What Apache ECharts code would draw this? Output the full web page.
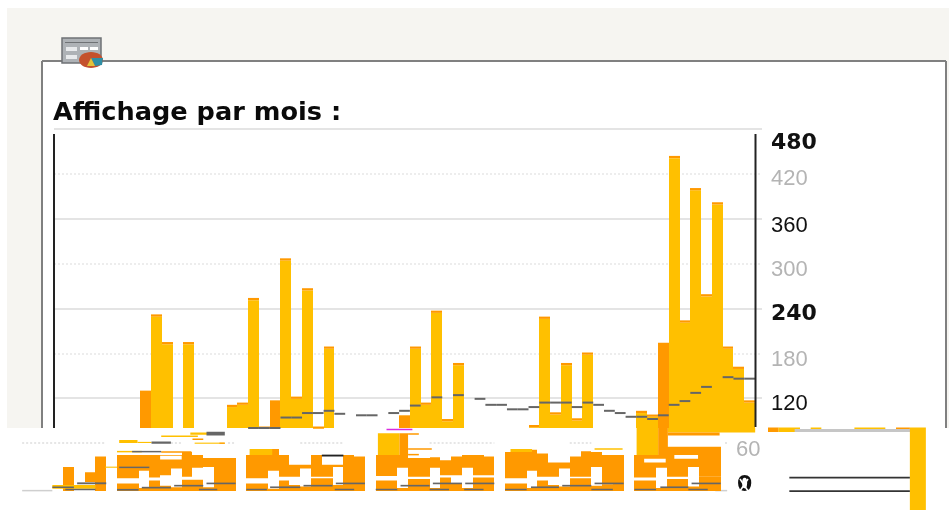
<!DOCTYPE html>
<html>
<head>
<meta charset="utf-8">
<style>html,body{margin:0;padding:0;background:#fff}#c{width:949px;height:521px;filter:blur(0.45px)}</style>
<script src="https://cdn.jsdelivr.net/npm/echarts@6/dist/echarts.min.js"></script>
</head>
<body>
<div id="c"></div>
<script>
const titleText = 'Affichage par mois :';
const tickValues = [480, 420, 360, 300, 240, 180, 120];
const tickBold = [480, 240];
const tickGrey = [420, 300, 180];
const tickDrop = {480: 14, 420: 5, 360: 7, 300: 6, 240: 6, 180: 7, 120: 6};
const solidLines = [480, 360, 240, 120];
const dottedLines = [420, 300, 180];

const monthTotals = [null,null,null,null,null,null,null,null,130,232,195,null,195,null,null,null,111,114,254,82,117,307,122,267,82,189,null,null,null,null,null,null,97,189,114,237,92,167,null,null,null,null,null,null,84,229,101,167,93,181,null,null,null,null,103,98,194,444,224,401,259,382,189,162,117];
const darkMonths = [8, 20, 32, 56];
const trend = [null,null,null,null,null,null,null,null,null,null,null,null,null,null,null,null,null,null,80,80,80,94,94,100,100,103,99,null,97,97,null,100,103,110,null,121,null,124,null,119,111,111,105,105,108,114,114,114,108,114,111,103,100,95,95,92,97,111,116,127,135,null,148,146,146];

/* broken lower band of the picture: one entry per column */
const lowerTop = [null,null,null,null,32,null,0,46,null,10,10,4,14,7,5,15,15,5,8,0,null,10,10,3,14,8,6,17,17,8,10,10,null,14,14,4,16,16,4,18,10,4,18,18,null,10,10,4,14,8,6,17,17,7,9,0,null,14,14,4,16,16,6,19,19,null,null,null,null];
const upperBottom = [null,null,null,null,32,null,12,46,null,17,17,27,18,21,30,19,31,32,8,0,null,17,17,27,19,19,30,19,19,32,10,10,null,20,20,31,19,19,31,21,21,31,21,21,null,17,17,27,19,19,30,19,19,32,9,0,null,18,18,31,19,19,32,19,19,null,null,null,null];
const upperTop = [null,null,null,null,32,null,25,46,null,48,48,48,48,48,48,52,48,44,44,44,null,48,48,56,48,35,35,48,35,35,48,46,null,48,48,48,44,44,45,41,46,48,48,46,null,52,52,55,50,38,38,46,53,52,48,48,null,48,48,48,59,59,59,59,59,null,null,null,null];

const strayYellow = [[13.1,16.5,72,74],[15.8,17.5,75,78],[9.2,10.9,64,68],[10.9,12.2,64,65.5],[16.2,19,63,64.5],[9,11.3,51.5,53.5],[7.9,9,31,32.5],[3,7,3,8],[21.3,23.4,48,56],[33.2,35.2,48,77],[45.5,47.5,52,56],[53.3,55.9,55,57],[57.2,59.2,48,88],[60.1,68.2,78,84]];
const strayOrange = [[16,17,68,70],[18.5,19,63,64.5],[13.1,15.9,51,53],[35.2,36,48,77],[36,38.2,55,57],[36,37,47.5,49.5],[36,37,75,77],[59.2,60.1,48,88],[60.1,64.9,74,78]];
const whiteSlots = [[13,15,42,47],[57.9,59.9,38,43],[60.7,62.9,43,48]];
const baseLine = [[0.2,3,-0.5,1.5],[64.5,65.6,-0.5,1.5]];
const greyDashes = [[3,5,4,6],[4.2,7,1,3],[5.3,8,9,11.5],[17.3,19,74,79],[12.2,14,63,66],[10.4,13.1,51.5,53.5],[9.2,12,30.5,32.5],[9,11,0.5,2.8],[11.3,14,3.4,5.6],[14.3,17,6,8.2],[17.3,20,9,11.2],[16.6,18.3,1,3],[21,22.9,1,3],[23.2,26,3.9,6.1],[26.3,29,6,8.2],[29.3,32,9,11.2],[29.2,31,1,3],[33,35,1,3],[35.3,38,6,8.2],[38.3,41,9,11.2],[41.3,44,9,11.2],[38,39.8,1,3],[41.2,43,1,3],[45,47,1,3],[47.4,50,3.9,6.1],[50.3,53,6,8.2],[53.3,56,9,11.2],[53,55,1,3],[57,59,1,3],[59.4,62,3.9,6.1],[62.3,65,9,11.2],[62,63.8,1,3]];
const blackDashes = [[28,30,46,48.5]];
const magentaDashes = [[34,36.4,81,83]];
const dottedFragments = [[0.2,7.9,64,64],[14,15,64,64],[19.3,20,64,64],[26,30,64,64],[38,44,64,64],[51,53,64,64],[65.4,65.6,64,64]];
const lowerLabels = [{text: '60', x: 736, y: 450, weight: 'normal', color: '#b4b4b4'}, {text: '0', x: 737, y: 485, weight: 'bold', color: '#111'}];

/* far right fragment */
const rightOrange = [[0,1,104,110],[12,13.3,104,110]];
const rightYellow = [[1,3,104,110],[4,5,104,110],[8.1,11,104,110],[13.3,14.8,0,110]];
const rightGrey = [[2.5,13.3,104,108]];
const rightBlack = [[2,13.3,42,44.5],[2,13.3,24,26.5]];

const ORANGE = '#ff9900', YELLOW = '#ffc000';
const CAP = 3;
const cols = monthTotals.map((_, i) => String(i + 1));
const lowCols = lowerTop.map((_, i) => String(i + 1));
const sans = 'Liberation Sans';

function rectItem(params, api) {
  const a = api.coord([api.value(0), api.value(2)]);
  const b = api.coord([api.value(1), api.value(3)]);
  return {type: 'rect', shape: {x: a[0], y: b[1], width: b[0] - a[0], height: a[1] - b[1]}, style: {fill: api.visual('color')}};
}
function dottedItem(params, api) {
  const a = api.coord([api.value(0), api.value(2)]);
  const b = api.coord([api.value(1), api.value(3)]);
  return {type: 'line', shape: {x1: a[0], y1: a[1], x2: b[0], y2: b[1]}, style: {stroke: '#e6e6e6', lineWidth: 2, lineDash: [2, 2]}};
}
function dashItem(params, api) {
  const v = api.value(1);
  if (isNaN(v)) return;
  const p = api.coord([api.value(0), v]);
  const w = api.size([1, 0])[0];
  return {type: 'line', shape: {x1: p[0] - w / 2, y1: p[1], x2: p[0] + w / 2, y2: p[1]}, style: {stroke: '#666', lineWidth: 2}};
}
/* a column as a plain rectangle spanning its full category width, so neighbours meet without seams */
function colItem(params, api) {
  const h = api.value(2) - api.value(1);
  if (isNaN(h) || h <= 0) return;
  const c = api.coord([api.value(0), api.value(1)]);
  const t = api.coord([api.value(0), api.value(2)]);
  const w = api.size([1, 0])[0];
  const x0 = Math.round(c[0] - w / 2), x1 = Math.round(c[0] + w / 2);
  return {type: 'rect', shape: {x: x0, y: t[1], width: x1 - x0, height: c[1] - t[1]}, style: {fill: api.visual('color')}};
}
function columns(data, color, xi, yi, z) {
  return {type: 'custom', silent: true, xAxisIndex: xi, yAxisIndex: yi, z: z, renderItem: colItem,
    encode: {x: 0, y: [1, 2]}, itemStyle: {color: color}, data: data};
}
function patches(data, color, xi, yi, z) {
  return {type: 'custom', silent: true, xAxisIndex: xi, yAxisIndex: yi, z: z, clip: false, renderItem: rectItem,
    encode: {x: [0, 1], y: [2, 3]}, itemStyle: {color: color}, data: data};
}

const rich = {};
tickValues.forEach(v => {
  const bold = tickBold.includes(v), grey = tickGrey.includes(v);
  rich['t' + v] = {
    fontFamily: bold ? 'DejaVu Sans' : sans, fontWeight: bold ? 'bold' : 'normal', fontSize: 22,
    color: grey ? '#b4b4b4' : '#111', padding: [tickDrop[v] * 2, 0, 0, 0]
  };
});

const hiddenY = (min, max, gridIndex) => ({type: 'value', gridIndex, min, max, show: false});
const asRange = (lo, hi) => lo.map((v, i) => [i, v === null ? NaN : v, hi[i] === null ? NaN : hi[i]]);

const option = {
  animation: false,
  backgroundColor: '#fff',
  title: {text: titleText, left: 53, top: 100, padding: 0,
    textStyle: {fontFamily: 'DejaVu Sans', fontWeight: 'bold', fontSize: 25.6, color: '#0a0a0a'}},
  grid: [
    {left: 54, top: 129, width: 708, height: 299, outerBoundsMode: 'none'},
    {left: 54, top: 129, width: 701, height: 299, outerBoundsMode: 'none'},
    {left: 20, top: 431, width: 743.8, height: 60, outerBoundsMode: 'none'},
    {left: 768, top: 427.5, width: 160, height: 82.5, outerBoundsMode: 'none'}
  ],
  xAxis: [
    {type: 'value', gridIndex: 0, min: 0, max: 1, show: false},
    {type: 'category', gridIndex: 1, data: cols, show: false},
    {type: 'category', gridIndex: 2, data: lowCols, show: false},
    {type: 'value', gridIndex: 2, min: 0, max: 69, show: false},
    {type: 'value', gridIndex: 3, min: 0, max: 15, show: false}
  ],
  yAxis: [
    {type: 'value', gridIndex: 0, position: 'right', offset: -7, min: 80, max: 480,
      axisLine: {show: false}, axisTick: {show: false, customValues: solidLines},
      splitLine: {show: true, lineStyle: {color: '#e4e4e4', width: 2}},
      axisLabel: {show: true, customValues: tickValues, margin: 16, formatter: v => '{t' + v + '|' + v + '}', rich: rich}},
    {type: 'value', gridIndex: 0, min: 80, max: 480,
      axisLine: {show: false}, axisLabel: {show: false}, axisTick: {show: false, customValues: dottedLines},
      splitLine: {show: true, lineStyle: {color: '#e8e8e8', width: 1.5, type: [2, 2]}}},
    hiddenY(80, 480, 1),
    hiddenY(0, 80, 2),
    hiddenY(0, 110, 3)
  ],
  graphic: [
    {type: 'rect', z: -3, silent: true, shape: {x: 7, y: 8, width: 942, height: 420}, style: {fill: '#f6f5f1'}},
    {type: 'rect', z: -2, silent: true, shape: {x: 42, y: 61, width: 904, height: 367}, style: {fill: '#fff'}},
    {type: 'line', z: -1, silent: true, shape: {x1: 42, y1: 61, x2: 946, y2: 61}, style: {stroke: '#808080', lineWidth: 2}},
    {type: 'line', z: -1, silent: true, shape: {x1: 42, y1: 61, x2: 42, y2: 428}, style: {stroke: '#808080', lineWidth: 2}},
    {type: 'line', z: -1, silent: true, shape: {x1: 946, y1: 61, x2: 946, y2: 428}, style: {stroke: '#808080', lineWidth: 2}},
    {type: 'line', z: 5, silent: true, shape: {x1: 54, y1: 134, x2: 54, y2: 428}, style: {stroke: '#222', lineWidth: 2}},
    {type: 'line', z: 5, silent: true, shape: {x1: 755.5, y1: 134, x2: 755.5, y2: 427}, style: {stroke: '#222', lineWidth: 2}},
    /* table + pie icon */
    {type: 'rect', z: 1, silent: true, shape: {x: 62, y: 38, width: 39, height: 25}, style: {fill: '#aeb2b6', stroke: '#6f7275', lineWidth: 1.5}},
    {type: 'rect', z: 1, silent: true, shape: {x: 66, y: 47, width: 11, height: 4}, style: {fill: '#e8eaec'}},
    {type: 'rect', z: 1, silent: true, shape: {x: 80, y: 47, width: 8, height: 3}, style: {fill: '#fff'}},
    {type: 'rect', z: 1, silent: true, shape: {x: 90, y: 47, width: 8, height: 3}, style: {fill: '#fff'}},
    {type: 'rect', z: 1, silent: true, shape: {x: 65, y: 42, width: 33, height: 1}, style: {fill: '#6f7275'}},
    {type: 'rect', z: 1, silent: true, shape: {x: 66, y: 55, width: 11, height: 4}, style: {fill: '#e8eaec'}},
    {type: 'ellipse', z: 1, silent: true, shape: {cx: 91, cy: 60, rx: 12, ry: 8}, style: {fill: '#c4512d'}},
    {type: 'polygon', z: 1, silent: true, shape: {points: [[91, 58], [103, 58], [102, 65], [95, 66]]}, style: {fill: '#2f8fa6'}},
    {type: 'polygon', z: 1, silent: true, shape: {points: [[91, 58], [95, 66], [87, 66]]}, style: {fill: '#e3c23a'}},
    /* the white cross over the damaged zero */
    {type: 'line', z: 7, silent: true, shape: {x1: 740, y1: 479, x2: 748, y2: 491}, style: {stroke: '#fff', lineWidth: 1.5}},
    {type: 'line', z: 7, silent: true, shape: {x1: 748, y1: 479, x2: 740, y2: 491}, style: {stroke: '#fff', lineWidth: 1.5}}
  ].concat(lowerLabels.map(l => ({type: 'text', z: 6, silent: true, x: l.x, y: l.y,
    style: {text: l.text, fontFamily: l.weight === 'bold' ? 'DejaVu Sans' : sans, fontWeight: l.weight, fontSize: 22, fill: l.color, verticalAlign: 'middle'}}))),
  series: [
    columns(asRange(monthTotals.map((v, i) => (v === null || darkMonths.includes(i)) ? null : 80), monthTotals.map(v => v === null ? null : v - CAP)), YELLOW, 1, 2, 2),
    columns(asRange(monthTotals.map((v, i) => v === null ? null : (darkMonths.includes(i) ? 80 : v - CAP)), monthTotals), ORANGE, 1, 2, 2),
    {type: 'custom', xAxisIndex: 1, yAxisIndex: 2, silent: true, z: 4, clip: false, renderItem: dashItem,
      encode: {x: 0, y: 1}, data: trend.map((v, i) => [i, v === null ? NaN : v])},

    patches(baseLine, '#cfcfcf', 3, 3, 1),
    {type: 'custom', xAxisIndex: 3, yAxisIndex: 3, silent: true, z: 1, clip: false, renderItem: dottedItem,
      encode: {x: [0, 1], y: [2, 3]}, data: dottedFragments},
    columns(asRange(lowerTop.map(v => v === null ? null : 0), lowerTop), ORANGE, 2, 3, 2),
    columns(asRange(upperBottom, upperTop), ORANGE, 2, 3, 2),
    patches(strayYellow, YELLOW, 3, 3, 3),
    patches(strayOrange, ORANGE, 3, 3, 3),
    patches(whiteSlots, '#ffffff', 3, 3, 3),
    patches(greyDashes, '#666666', 3, 3, 4),
    patches(blackDashes, '#222222', 3, 3, 4),
    patches(magentaDashes, '#d92be0', 3, 3, 6),

    patches(rightOrange, ORANGE, 4, 4, 2),
    patches(rightYellow, YELLOW, 4, 4, 2),
    patches(rightGrey, '#c6c6c6', 4, 4, 3),
    patches(rightBlack, '#333333', 4, 4, 3)
  ]
};
const chart = echarts.init(document.getElementById('c'), null, {renderer: 'canvas'});
chart.setOption(option);
</script>
</body>
</html>
